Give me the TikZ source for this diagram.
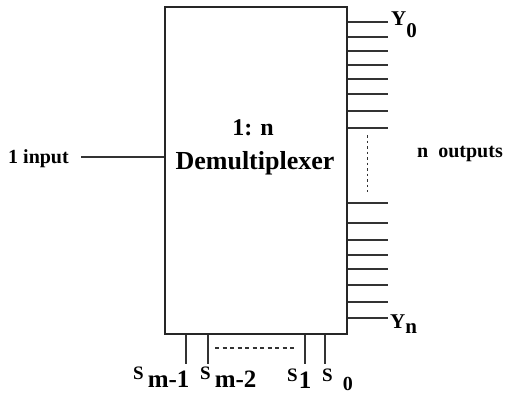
\documentclass[tikz,border=0pt]{standalone}
\usepackage{fontspec}
\setmainfont{Liberation Serif}
\usepackage{tikz}
\usetikzlibrary{positioning,calc}

\begin{document}
\begin{tikzpicture}[
    x=1pt, y=-1pt,
    every node/.style={inner sep=0pt, font=\bfseries},
    demux/.style={rectangle, draw=black!85, line width=1.5pt, minimum width=182pt, minimum height=327pt},
    wire/.style={draw=black!80, line width=1.3pt},
    gap/.style={draw=black!80, line width=1.1pt, dash pattern=on 4pt off 3.5pt},
    title/.style={font=\fontsize{24}{34}\selectfont\bfseries, anchor=base},
    label/.style={font=\fontsize{20}{24}\selectfont\bfseries, anchor=base west},
    sel/.style={font=\fontsize{19}{22}\selectfont\bfseries, anchor=base west},
]
\useasboundingbox (0,0) rectangle (506,394);

% Demultiplexer block
\node[demux] (demux) at (256,170.5) {};
\node[title] (ratio) at (253,135) {1: n};
\node[title, font=\fontsize{26}{34}\selectfont\bfseries] (name) at (255,169) {Demultiplexer};

% Input
\node[label] (input) at (8,163) {1 input};
\coordinate (in) at (81,157);
\draw[wire] (in) -- (demux.west |- in);

% Outputs
\foreach \y [count=\i] in {22,37,51,65,79,94,111,128,203,223,240,255,269,285,302,318}{
    \coordinate (out\i) at (388,\y);
    \draw[wire] (demux.east |- out\i) -- (out\i);
}
\coordinate (dotA) at (367,135);
\coordinate (dotB) at (367,192);
\draw[wire, line width=1pt, dash pattern=on 2.5pt off 3pt] (dotA) -- (dotB);
\node[label, font=\fontsize{21}{24}\selectfont\bfseries] (y0) at (391,25) {Y\raisebox{-12pt}{0}};
\node[label, font=\fontsize{21}{24}\selectfont\bfseries] (yn) at (390,328) {Y\raisebox{-5pt}{n}};
\node[label] (outputs) at (417,157) {n~ outputs};

% Select lines
\foreach \x [count=\i] in {186,208,305,325}{
    \coordinate (sel\i) at (\x,364);
    \draw[wire] (demux.south -| sel\i) -- (sel\i);
}
\coordinate (gapA) at (215,348);
\coordinate (gapB) at (297,348);
\draw[gap] (gapA) -- (gapB);

% Select labels
\node[sel] (s1) at (133,379) {S\hspace{4pt}\raisebox{-8pt}{\fontsize{25}{28}\selectfont m-1}};
\node[sel] (s2) at (200,379) {S\hspace{4pt}\raisebox{-8pt}{\fontsize{25}{28}\selectfont m-2}};
\node[sel] (s3) at (287,381) {S\hspace{1pt}\raisebox{-7pt}{\fontsize{25}{28}\selectfont 1}};
\node[sel] (s4) at (322,381) {S\hspace{10pt}\raisebox{-9pt}{\fontsize{20}{24}\selectfont 0}};

\end{tikzpicture}
\end{document}
